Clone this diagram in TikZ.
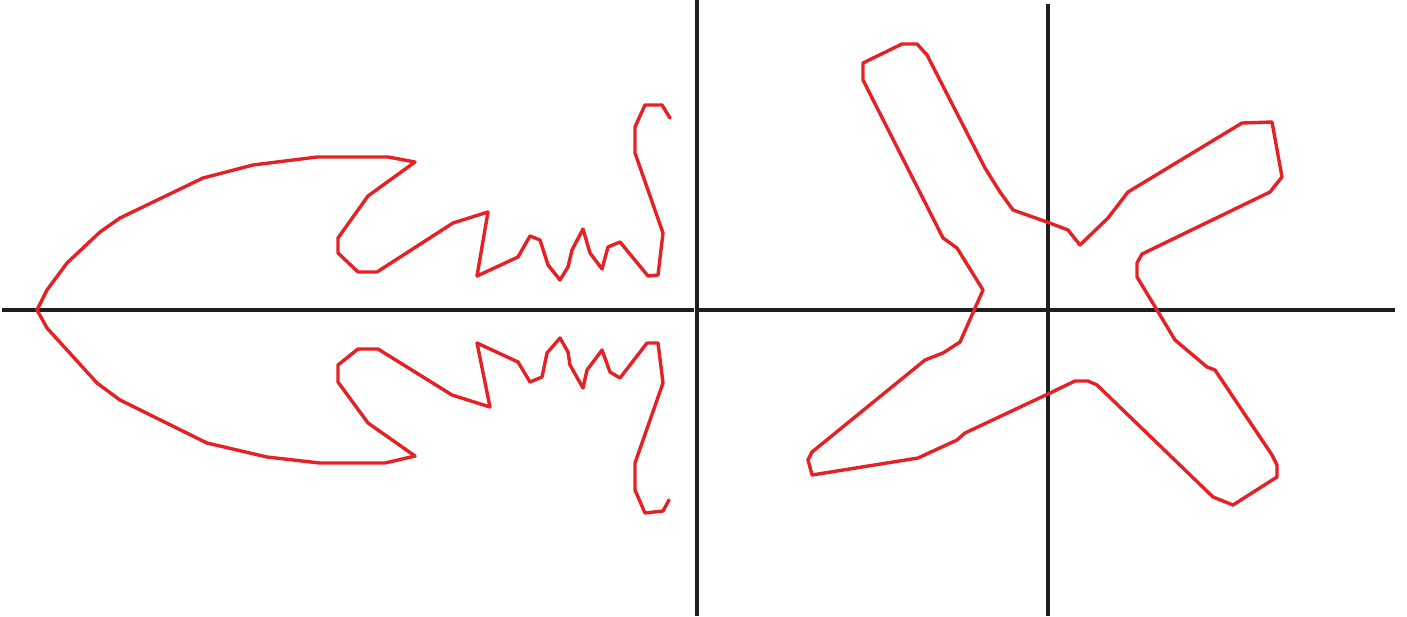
\documentclass[tikz,border=0pt]{standalone}
\usepackage{xcolor}
\usepackage{tikz}
\definecolor{sketchred}{RGB}{228,34,38}
\definecolor{axisgray}{RGB}{30,30,32}

\begin{document}
\begin{tikzpicture}[x=1pt, y=-1pt,
    axis/.style={draw=axisgray, line width=3.1pt},
    sketch/.style={draw=sketchred, line width=3.4pt, line join=round, line cap=round}]
    \useasboundingbox (0,0) rectangle (1407,616);

    % axes of both panels
    \coordinate (leftW) at (2,310);
    \coordinate (leftE) at (694,310);
    \coordinate (rightW) at (699,310);
    \coordinate (rightE) at (1395,310);
    \coordinate (divN) at (697,0);
    \coordinate (divS) at (697,616);
    \coordinate (axN) at (1048,4);
    \coordinate (axS) at (1048,616);
    \draw [axis] (leftW) -- (leftE);
    \draw [axis] (rightW) -- (rightE);
    \draw [axis] (divN) -- (divS);
    \draw [axis] (axN) -- (axS);

    % left panel: open outline, upper half then lower half
    \draw [sketch] (670,118) -- (662,105) -- (645,105) -- (635,127) -- (635,153)
        -- (663,233) -- (658,275) -- (648,276) -- (620,242) -- (608,247)
        -- (602,269) -- (590,253) -- (583,229) -- (572,250) -- (568,267)
        -- (560,280) -- (548,265) -- (540,240) -- (530,236) -- (518,257)
        -- (477,276) -- (488,212) -- (453,223) -- (377,272) -- (358,272)
        -- (338,253) -- (338,238) -- (368,196) -- (415,162) -- (388,157)
        -- (317,157) -- (253,165) -- (203,178) -- (120,218) -- (100,232)
        -- (67,263) -- (47,290) -- (37,310)
        -- (47,328) -- (97,383) -- (120,400) -- (207,443) -- (267,457)
        -- (320,463) -- (385,463) -- (415,456) -- (368,423) -- (338,382)
        -- (338,365) -- (358,349) -- (378,349) -- (452,395) -- (490,407)
        -- (477,343) -- (518,362) -- (530,382) -- (542,377) -- (547,353)
        -- (560,338) -- (568,352) -- (570,365) -- (583,388) -- (587,370)
        -- (602,350) -- (610,372) -- (620,378) -- (647,343) -- (658,343)
        -- (663,383) -- (635,463) -- (635,490) -- (645,513) -- (663,511)
        -- (669,500);

    % right panel: closed four-armed outline
    \draw [sketch] (863,63) -- (902,44) -- (917,44) -- (927,55) -- (985,168)
        -- (1000,192) -- (1013,210) -- (1047,222) -- (1068,230) -- (1080,245)
        -- (1108,218) -- (1128,192) -- (1242,123) -- (1272,122) -- (1282,177)
        -- (1270,192) -- (1142,254) -- (1137,263) -- (1137,277) -- (1157,310)
        -- (1175,340) -- (1207,367) -- (1215,370) -- (1272,455) -- (1277,465)
        -- (1277,477) -- (1233,505) -- (1213,497) -- (1097,385) -- (1088,381)
        -- (1075,381) -- (1050,393) -- (965,433) -- (957,440) -- (918,458)
        -- (812,475) -- (808,460) -- (812,452) -- (925,360) -- (943,353)
        -- (960,342) -- (983,290) -- (957,248) -- (943,238) -- (863,80)
        -- cycle;
\end{tikzpicture}
\end{document}
